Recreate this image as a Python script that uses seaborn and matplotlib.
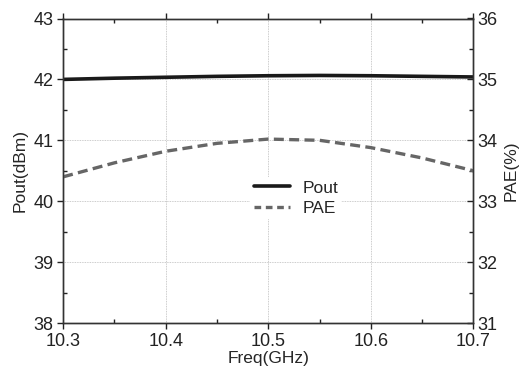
import numpy as np
import pandas as pd
import matplotlib
matplotlib.use("Agg")
import matplotlib.pyplot as plt
import seaborn as sns
from matplotlib.ticker import MultipleLocator, FormatStrFormatter
from matplotlib.lines import Line2D

freq = [10.30, 10.35, 10.40, 10.45, 10.50, 10.55, 10.60, 10.65, 10.70]
pout = [42.00, 42.02, 42.035, 42.05, 42.06, 42.065, 42.06, 42.05, 42.04]
pae = [33.40, 33.63, 33.82, 33.95, 34.02, 34.00, 33.88, 33.71, 33.50]

df = pd.DataFrame({"freq": freq, "pout": pout, "pae": pae})

sns.set_style("white")
plt.rcParams['font.family'] = ['Liberation Sans', 'DejaVu Sans']

fig, ax = plt.subplots(figsize=(5.26, 3.70), dpi=100)
ax2 = ax.twinx()

sns.lineplot(data=df, x="freq", y="pout", ax=ax, color="#1a1a1a", linewidth=2.6)
sns.lineplot(data=df, x="freq", y="pae", ax=ax2, color="#666666", linewidth=2.4,
             linestyle=(0, (3, 1.6)))

ax.set_xlim(10.3, 10.7)
ax.set_ylim(38, 43)
ax2.set_ylim(31, 36)

ax.xaxis.set_major_locator(MultipleLocator(0.1))
ax.xaxis.set_minor_locator(MultipleLocator(0.05))
ax.yaxis.set_major_locator(MultipleLocator(1))
ax.yaxis.set_minor_locator(MultipleLocator(0.5))
ax2.yaxis.set_major_locator(MultipleLocator(1))
ax2.yaxis.set_minor_locator(MultipleLocator(0.5))
ax.xaxis.set_major_formatter(FormatStrFormatter("%.1f"))

ax.grid(True, which="major", color="#bbbbbb", linestyle=(0, (1, 1)), linewidth=0.6)
ax.set_axisbelow(True)

for a in (ax, ax2):
    for s in a.spines.values():
        s.set_color("#333333")
        s.set_linewidth(1.0)

ax.tick_params(which="major", direction="out", length=4, width=1, labelsize=13,
               colors="#222222", top=True, bottom=True, left=True, pad=3)
ax.tick_params(which="minor", direction="in", length=3, width=1, top=True, bottom=True,
               left=True, colors="#222222")
ax2.tick_params(which="major", direction="in", length=4, width=1, labelsize=13,
                colors="#222222", pad=3)
ax2.tick_params(which="minor", direction="in", length=3, width=1, colors="#222222")

ax.set_xlabel("Freq(GHz)", fontsize=12.5, labelpad=1)
ax.set_ylabel("Pout(dBm)", fontsize=12.5, labelpad=4)
ax2.set_ylabel("PAE(%)", fontsize=12.5, labelpad=4)

handles = [Line2D([], [], color="#1a1a1a", linewidth=2.6),
           Line2D([], [], color="#666666", linewidth=2.4, linestyle=(0, (2, 1.4)))]
leg = ax2.legend(handles, ["Pout", "PAE"], loc="center", bbox_to_anchor=(0.567, 0.41),
                 frameon=True, fontsize=12.5, handlelength=2.1, handletextpad=0.7,
                 borderpad=0.2, labelspacing=0.3)
leg.get_frame().set_edgecolor("none")
leg.get_frame().set_facecolor("white")
leg.get_frame().set_alpha(1)

fig.subplots_adjust(left=0.12, right=0.9, top=0.95, bottom=0.127)
fig.savefig("out.png", dpi=100)
